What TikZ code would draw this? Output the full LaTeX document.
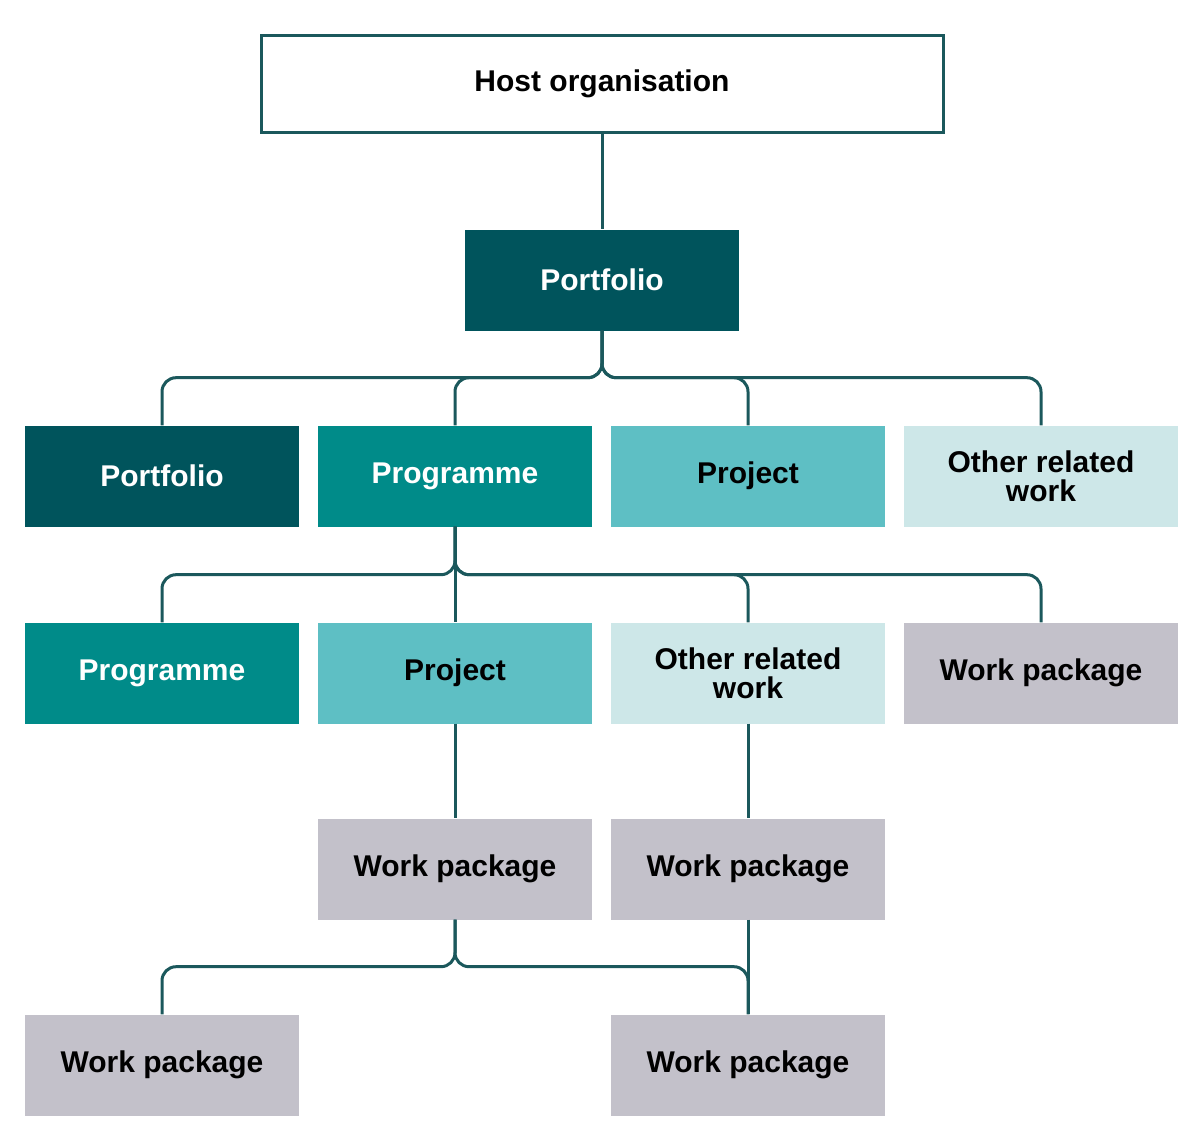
\documentclass[tikz,border=0pt]{standalone}
\usepackage{fontspec}
\setmainfont{Liberation Sans}
\begin{document}
\begin{tikzpicture}[x=1pt,y=-1pt,
  box/.style={minimum width=274pt,minimum height=101pt,inner sep=0pt,align=center,font=\fontsize{30}{29}\selectfont\bfseries},
  dark/.style={box,fill=pdark,text=white},
  prog/.style={box,fill=pprog,text=white},
  proj/.style={box,fill=pproj},
  oth/.style={box,fill=poth},
  wp/.style={box,fill=pwp},
  ln/.style={draw=pline,line width=3pt,rounded corners=14pt}]
\definecolor{pdark}{HTML}{00545C}
\definecolor{pprog}{HTML}{008B89}
\definecolor{pproj}{HTML}{5EBFC4}
\definecolor{poth}{HTML}{CDE7E8}
\definecolor{pwp}{HTML}{C3C1CA}
\definecolor{pline}{HTML}{1B585C}
\useasboundingbox (0,0) rectangle (1200,1146);
\node[box,draw=pline,line width=3pt,minimum width=682pt,minimum height=97pt] (host) at (602,84) {Host organisation};
\node[dark] (pf) at (602,280) {Portfolio};
\node[dark] (pf2) at (162,476) {Portfolio};
\node[prog] (pg) at (455,476) {Programme};
\node[proj] (pj) at (748,476) {Project};
\node[oth] (ot) at (1041,476) {Other related\\work};
\node[prog] (pg2) at (162,673) {Programme};
\node[proj] (pj2) at (455,673) {Project};
\node[oth] (ot2) at (748,673) {Other related\\work};
\node[wp] (wa) at (1041,673) {Work package};
\node[wp] (wb) at (455,869) {Work package};
\node[wp] (wc) at (748,869) {Work package};
\node[wp] (wd) at (162,1065) {Work package};
\node[wp] (we) at (748,1065) {Work package};
\draw[ln] (host.south) -- (pf.north);
\foreach \t in {pf2,pg,pj,ot}{\draw[ln] (pf.south) -- ++(0,47) -| (\t.north);}
\foreach \t in {pg2,pj2,ot2,wa}{\draw[ln] (pg.south) -- ++(0,48) -| (\t.north);}
\draw[ln] (pj2.south) -- (wb.north);
\draw[ln] (ot2.south) -- (wc.north);
\draw[ln] (wc.south) -- (we.north);
\foreach \t in {wd,we}{\draw[ln] (wb.south) -- ++(0,47) -| (\t.north);}
\end{tikzpicture}
\end{document}
